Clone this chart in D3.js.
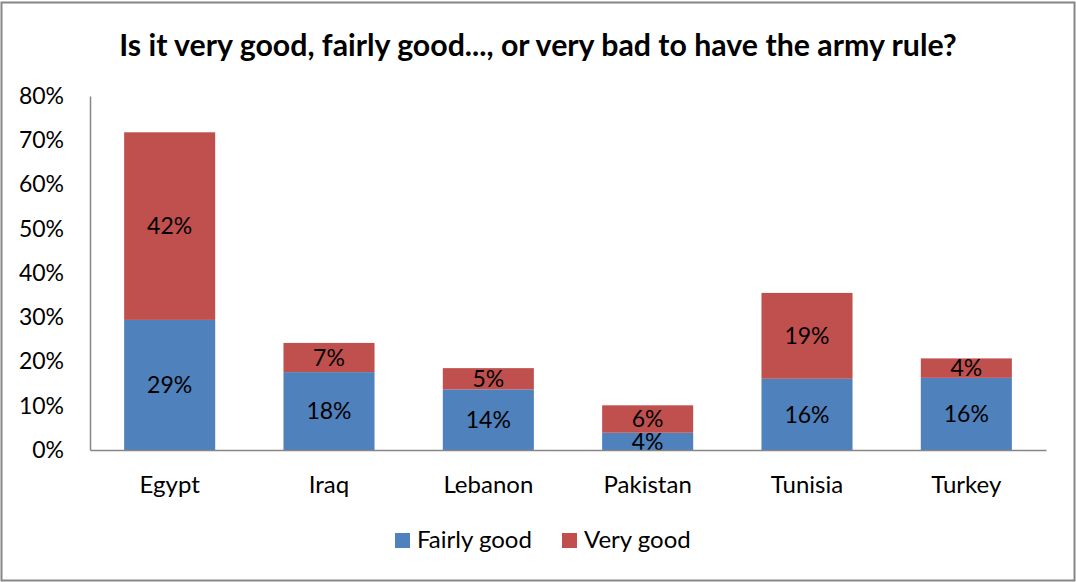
<!DOCTYPE html>
<html><head><meta charset="utf-8">
<script src="https://cdn.jsdelivr.net/npm/d3@7"></script>
<style>
html,body{margin:0;padding:0;background:#fff;}
svg text{font-family:Lato,"Open Sans",sans-serif;fill:#000;}
</style></head>
<body>
<svg id="chart" width="1076" height="582"></svg>
<script>
const title = "Is it very good, fairly good..., or very bad to have the army rule?";
const categories = ["Egypt","Iraq","Lebanon","Pakistan","Tunisia","Turkey"];
const seriesNames = ["Fairly good","Very good"];
const fairlyGood = [29.4, 17.6, 13.7, 3.9, 16.1, 16.3];
const veryGood = [42.4, 6.6, 4.8, 6.2, 19.4, 4.4];
const yTicks = [0,10,20,30,40,50,60,70,80];
const colors = ["#4F81BD","#C0504D"];

const svg = d3.select("#chart");
svg.append("rect").attr("x",1.5).attr("y",2.5).attr("width",1073).attr("height",578)
  .attr("fill","#fff").attr("stroke","#868686").attr("stroke-width",2);

const x = d3.scaleBand().domain(categories).range([90,1046]).paddingInner(0.75/1.75).paddingOuter(0.375/1.75);
const y = d3.scaleLinear().domain([0,80]).range([450,96]);

const data = categories.map((c,i)=>({cat:c, "Fairly good":fairlyGood[i], "Very good":veryGood[i]}));
const stack = d3.stack().keys(seriesNames)(data);

// title
const t = svg.append("text").attr("x",538).attr("y",56).attr("text-anchor","middle")
  .style("font-weight","bold").style("font-size","27px").text(title);
const tw = t.node().getComputedTextLength();
t.style("font-size", (27*838/tw).toFixed(2)+"px");

// bars
stack.forEach((s,si)=>{
  svg.append("g").selectAll("rect").data(s).enter().append("rect")
    .attr("x",d=>x(d.data.cat)).attr("width",x.bandwidth())
    .attr("y",d=>y(d[1])).attr("height",d=>y(d[0])-y(d[1]))
    .attr("fill",colors[si]);
  svg.append("g").selectAll("text").data(s).enter().append("text")
    .attr("x",d=>x(d.data.cat)+x.bandwidth()/2)
    .attr("y",d=>(y(d[0])+y(d[1]))/2)
    .attr("dy","0.36em").attr("text-anchor","middle").style("font-size","23px")
    .text(d=>Math.round(d[1]-d[0])+"%");
});

// y axis
const yAxis = d3.axisLeft(y).tickValues(yTicks).tickFormat(d=>d+"%").tickSize(0).tickPadding(26);
const gy = svg.append("g").attr("transform","translate(90,0)").call(yAxis);
gy.select(".domain").attr("stroke","#868686").attr("stroke-width",1.5);
gy.selectAll("text").style("font-size","23px").style("font-family","Lato").attr("fill","#000");

// x axis
const xAxis = d3.axisBottom(x).tickSize(0).tickPadding(26);
const gx = svg.append("g").attr("transform","translate(0,450)").call(xAxis);
gx.select(".domain").attr("stroke","#868686").attr("stroke-width",1.5);
gx.selectAll("text").style("font-size","24px").style("font-family","Lato").attr("fill","#000");

// legend
const legendX = [395, 562];
const lg = svg.append("g");
seriesNames.forEach((n,i)=>{
  lg.append("rect").attr("x",legendX[i]).attr("y",533).attr("width",15).attr("height",15).attr("fill",colors[i]);
  lg.append("text").attr("x",legendX[i]+22).attr("y",548).style("font-size","24px").text(n);
});
</script>
</body></html>
